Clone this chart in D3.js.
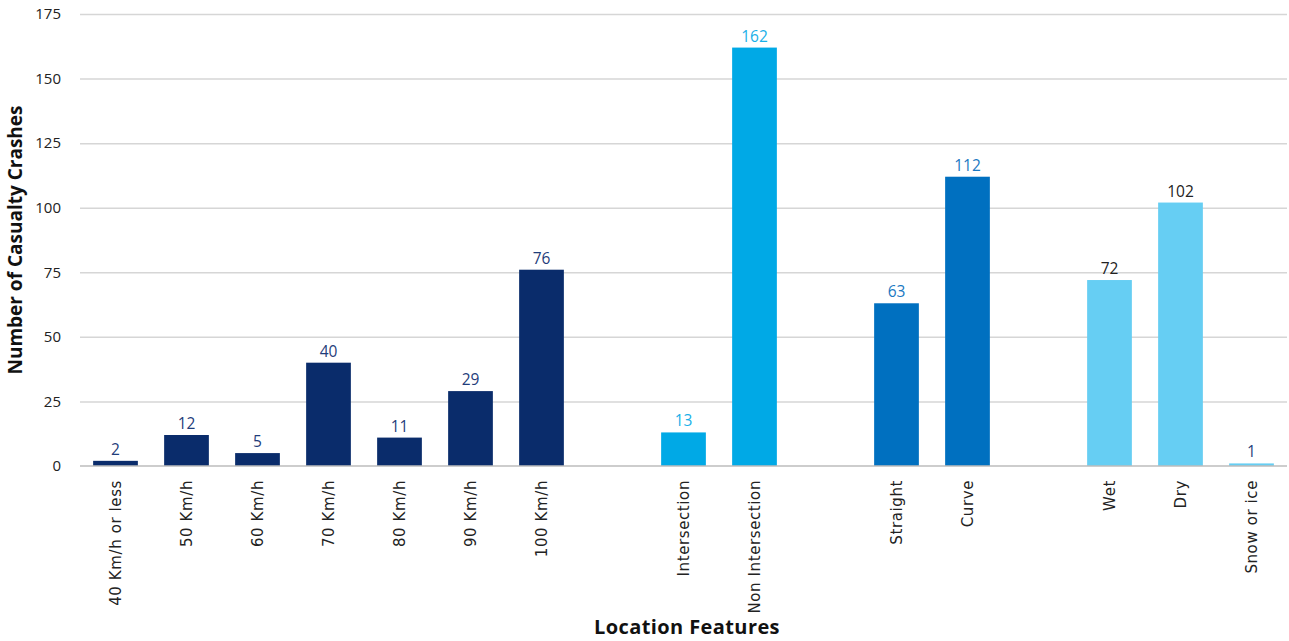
<!DOCTYPE html>
<html>
<head>
<meta charset="utf-8">
<script src="https://cdn.jsdelivr.net/npm/d3@7"></script>
<style>
  body { margin: 0; background: #fff; }
  text { font-family: "Open Sans", "Lato", sans-serif; }
  .grid line { stroke: #d6d6d6; stroke-width: 1.5; }
  .grid path { display: none; }
  .yaxis path, .yaxis line { display: none; }
  .yaxis text { font-size: 15px; fill: #222; }
  .xaxis path { stroke: #bdbdbd; stroke-width: 1.5; }
  .xaxis line { display: none; }
  .xaxis text { font-family: "DejaVu Sans", sans-serif; font-size: 15px; letter-spacing: 0.6px; fill: #222; }
  .value { font-size: 15.5px; }
  .title { font-size: 19px; font-weight: bold; fill: #111; }
  .xtitle { font-size: 20px; letter-spacing: 0.4px; }
</style>
</head>
<body>
<script>
(function(){

//chart data, blank slots are gaps between groups
var categories = ["40 Km/h or less", "50 Km/h", "60 Km/h", "70 Km/h", "80 Km/h", "90 Km/h", "100 Km/h",
    "", "Intersection", "Non Intersection", " ", "Straight", "Curve", "  ", "Wet", "Dry", "Snow or ice"];
var values = [2, 12, 5, 40, 11, 29, 76, null, 13, 162, null, 63, 112, null, 72, 102, 1];
var groups = ["speed", "speed", "speed", "speed", "speed", "speed", "speed", null,
    "junction", "junction", null, "alignment", "alignment", null, "surface", "surface", "surface"];
var yTicks = [0, 25, 50, 75, 100, 125, 150, 175];

var barColors = { speed: "#0a2c6b", junction: "#00a9e6", alignment: "#0070c0", surface: "#66cef3" };
var labelColors = { speed: "#1f3d7a", junction: "#1ab0e8", alignment: "#1a78c2", surface: "#222" };

var width = 1289, height = 641;
var margin = { top: 14, right: 2, bottom: 175, left: 80 };

var svg = d3.select("body").append("svg")
    .attr("width", width)
    .attr("height", height);

var x = d3.scaleBand()
    .domain(categories)
    .range([margin.left, width - margin.right])
    .paddingInner(0.37)
    .paddingOuter(0.185);

var y = d3.scaleLinear()
    .domain([0, 175])
    .range([height - margin.bottom, margin.top]);

//gridlines
svg.append("g")
    .attr("class", "grid")
    .attr("transform", "translate(" + margin.left + ",0)")
    .call(d3.axisLeft(y).tickValues(yTicks.slice(1)).tickSize(-(width - margin.left - margin.right)).tickFormat(""));

//y axis labels
svg.append("g")
    .attr("class", "yaxis")
    .attr("transform", "translate(" + (margin.left - 19) + ",0)")
    .call(d3.axisLeft(y).tickValues(yTicks).tickSize(0).tickPadding(0));

var rows = categories.map(function(c, i){
    return { cat: c, value: values[i], group: groups[i] };
}).filter(function(d){ return d.value != null; });

//bars
svg.selectAll(".bar")
    .data(rows)
    .enter()
    .append("rect")
    .attr("class", "bar")
    .attr("x", function(d){ return x(d.cat); })
    .attr("width", x.bandwidth())
    .attr("y", function(d){ return y(d.value); })
    .attr("height", function(d){ return y(0) - y(d.value); })
    .style("fill", function(d){ return barColors[d.group]; });

//value labels
svg.selectAll(".value")
    .data(rows)
    .enter()
    .append("text")
    .attr("class", "value")
    .attr("text-anchor", "middle")
    .attr("x", function(d){ return x(d.cat) + x.bandwidth() / 2; })
    .attr("y", function(d){ return y(d.value) - 6; })
    .style("fill", function(d){ return d.value < 5 && d.group == "surface" ? "#1f3d7a" : labelColors[d.group]; })
    .text(function(d){ return d.value; });

//x axis with rotated category labels
var xAxis = svg.append("g")
    .attr("class", "xaxis")
    .attr("transform", "translate(0," + y(0) + ")")
    .call(d3.axisBottom(x).tickSize(0).tickSizeOuter(0));

xAxis.select(".domain")
    .attr("d", "M" + margin.left + ",0H" + (width - margin.right));

xAxis.selectAll("text")
    .attr("transform", "rotate(-90)")
    .attr("text-anchor", "end")
    .attr("x", -14)
    .attr("y", 0)
    .attr("dy", "0.35em");

//axis titles
svg.append("text")
    .attr("class", "title")
    .attr("text-anchor", "middle")
    .attr("transform", "translate(22," + (y(0) + margin.top) / 2 + ") rotate(-90)")
    .text("Number of Casualty Crashes");

svg.append("text")
    .attr("class", "title xtitle")
    .attr("text-anchor", "middle")
    .attr("x", 687)
    .attr("y", 634)
    .text("Location Features");

})();
</script>
</body>
</html>
